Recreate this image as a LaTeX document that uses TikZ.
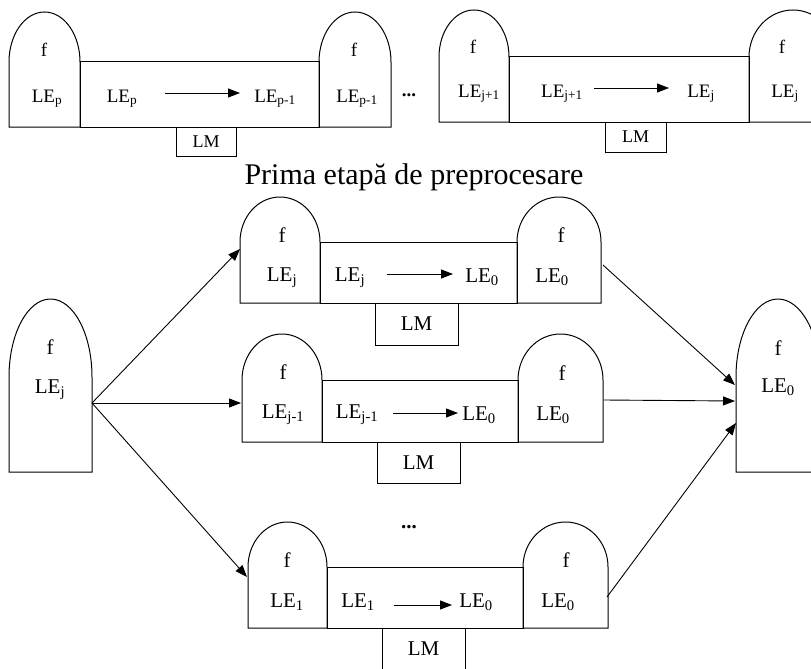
\documentclass[tikz,border=0pt]{standalone}
\usepackage{fontspec}
\setmainfont{Liberation Serif}
\usetikzlibrary{arrows.meta}

\begin{document}
\begin{tikzpicture}[x=1pt,y=-1pt,
		part/.style={draw, line width=1pt},
		sm/.style={anchor=base, inner sep=0pt, font=\fontsize{19}{22}\selectfont},
		lg/.style={anchor=base, inner sep=0pt, font=\fontsize{21}{24}\selectfont},
		lmbox/.style={draw, line width=1pt, inner sep=0pt},
		arr/.style={line width=1pt, -{Triangle[length=12pt,width=9pt]}},
		link/.style={line width=0.9pt, -{Triangle[length=12pt,width=9pt]}}]
		\useasboundingbox (0,0) rectangle (811,669);
		\draw[part](9,127) -- (9,62) arc[start angle=180, end angle=360, x radius=35.5, y radius=50] -- (80,127) -- cycle;
		\draw[part](80,62) rectangle (319,127);
		\draw[part](319,127) -- (319,62) arc[start angle=180, end angle=360, x radius=36, y radius=50] -- (391,127) -- cycle;
		\node[lmbox, minimum width=60pt, minimum height=29pt, font=\fontsize{18}{20}\selectfont] (t1lm) at (206,141.5) {LM};
		\node[sm] (t1lf) at (44,57) {f};
		\node[sm] (t1le) at (47,102) {LE\textsubscript{p}};
		\node[sm] (t1from) at (122,102) {LE\textsubscript{p}};
		\node[sm] (t1to) at (275,102) {LE\textsubscript{p-1}};
		\node[sm] (t1rf) at (354,57) {f};
		\node[sm] (t1re) at (357,102) {LE\textsubscript{p-1}};
		\coordinate (t1a) at (165,93);
		\coordinate (t1b) at (240,93);
		\draw[arr](t1a) -- (t1b);
		\node[sm] (dots1) at (409,96) {\textbf{...}};
		\draw[part](439,122) -- (439,57) arc[start angle=180, end angle=360, x radius=35, y radius=47] -- (509,122) -- cycle;
		\draw[part](509,57) rectangle (749,122);
		\draw[part](749,122) -- (749,57) arc[start angle=180, end angle=360, x radius=44, y radius=47] -- (837,122) -- cycle;
		\node[lmbox, minimum width=61pt, minimum height=30pt, font=\fontsize{18}{20}\selectfont] (t2lm) at (635.5,137) {LM};
		\node[sm] (t2lf) at (473,53) {f};
		\node[sm] (t2le) at (479,97) {LE\textsubscript{j+1}};
		\node[sm] (t2from) at (562,97) {LE\textsubscript{j+1}};
		\node[sm] (t2to) at (701,97) {LE\textsubscript{j}};
		\node[sm] (t2rf) at (782,53) {f};
		\node[sm] (t2re) at (785,97) {LE\textsubscript{j}};
		\coordinate (t2a) at (594,88);
		\coordinate (t2b) at (669,88);
		\draw[arr](t2a) -- (t2b);
		\node[anchor=base, font=\fontsize{30}{34}\selectfont] (title) at (414,184) {Prima etapă de preprocesare};
		\draw[part](9,472) -- (9,377) arc[start angle=180, end angle=360, x radius=41.5, y radius=78] -- (92,472) -- cycle;
		\node[lg] (srcf) at (50,354) {f};
		\node[lg] (srcle) at (50,393) {LE\textsubscript{j}};
		\coordinate (srcout) at (92,403);
		\draw[part](736,472) -- (736,377) arc[start angle=180, end angle=360, x radius=42, y radius=78] -- (820,472) -- cycle;
		\node[lg] (dstf) at (778,355) {f};
		\node[lg] (dstle) at (778,392) {LE\textsubscript{0}};
		\draw[part](240,303) -- (240,242) arc[start angle=180, end angle=360, x radius=40, y radius=45] -- (320,303) -- cycle;
		\draw[part](320,242) rectangle (517,303);
		\draw[part](517,303) -- (517,242) arc[start angle=180, end angle=360, x radius=42, y radius=45] -- (601,303) -- cycle;
		\node[lmbox, minimum width=83pt, minimum height=42pt, font=\fontsize{21}{24}\selectfont] (r1lm) at (416.5,324) {LM};
		\node[lg] (r1lf) at (282,242) {f};
		\node[lg] (r1le) at (282,281) {LE\textsubscript{j}};
		\node[lg] (r1from) at (350,281) {LE\textsubscript{j}};
		\node[lg] (r1to) at (482,282) {LE\textsubscript{0}};
		\node[lg] (r1rf) at (561,242) {f};
		\node[lg] (r1re) at (552,282) {LE\textsubscript{0}};
		\coordinate (r1a) at (387,274);
		\coordinate (r1b) at (453,274);
		\draw[arr](r1a) -- (r1b);
		\coordinate (r1in) at (240,249);
		\coordinate (r1out) at (603,265);
		\draw[part](242,442) -- (242,380) arc[start angle=180, end angle=360, x radius=40, y radius=46] -- (322,442) -- cycle;
		\draw[part](322,380) rectangle (518,442);
		\draw[part](518,442) -- (518,380) arc[start angle=180, end angle=360, x radius=42.5, y radius=46] -- (603,442) -- cycle;
		\node[lmbox, minimum width=83pt, minimum height=41pt, font=\fontsize{21}{24}\selectfont] (r2lm) at (418.5,462.5) {LM};
		\node[lg] (r2lf) at (283,379) {f};
		\node[lg] (r2le) at (283,418) {LE\textsubscript{j-1}};
		\node[lg] (r2from) at (357,418) {LE\textsubscript{j-1}};
		\node[lg] (r2to) at (479,420) {LE\textsubscript{0}};
		\node[lg] (r2rf) at (562,380) {f};
		\node[lg] (r2re) at (553,420) {LE\textsubscript{0}};
		\coordinate (r2a) at (393,413);
		\coordinate (r2b) at (458,413);
		\draw[arr](r2a) -- (r2b);
		\coordinate (r2in) at (241,403);
		\coordinate (r2out) at (604,400);
		\node[lg] (dots2) at (409,528) {\textbf{...}};
		\draw[part](248,628) -- (248,567) arc[start angle=180, end angle=360, x radius=39.5, y radius=45] -- (327,628) -- cycle;
		\draw[part](327,567) rectangle (523,628);
		\draw[part](523,628) -- (523,567) arc[start angle=180, end angle=360, x radius=42.5, y radius=45] -- (608,628) -- cycle;
		\node[lmbox, minimum width=83pt, minimum height=42pt, font=\fontsize{21}{24}\selectfont] (r3lm) at (423.5,649) {LM};
		\node[lg] (r3lf) at (287,567) {f};
		\node[lg] (r3le) at (287,607) {LE\textsubscript{1}};
		\node[lg] (r3from) at (358,607) {LE\textsubscript{1}};
		\node[lg] (r3to) at (476,607) {LE\textsubscript{0}};
		\node[lg] (r3rf) at (566,567) {f};
		\node[lg] (r3re) at (558,607) {LE\textsubscript{0}};
		\coordinate (r3a) at (394,605);
		\coordinate (r3b) at (452,605);
		\draw[arr](r3a) -- (r3b);
		\coordinate (r3in) at (247,577);
		\coordinate (r3out) at (607,597);
		\coordinate (dstin1) at (735,385);
		\coordinate (dstin2) at (735,401);
		\coordinate (dstin3) at (736,423);
		\draw[link](srcout) -- (r1in);
		\draw[link](srcout) -- (r2in);
		\draw[link](srcout) -- (r3in);
		\draw[link](r1out) -- (dstin1);
		\draw[link](r2out) -- (dstin2);
		\draw[link](r3out) -- (dstin3);
	\end{tikzpicture}
\end{document}
